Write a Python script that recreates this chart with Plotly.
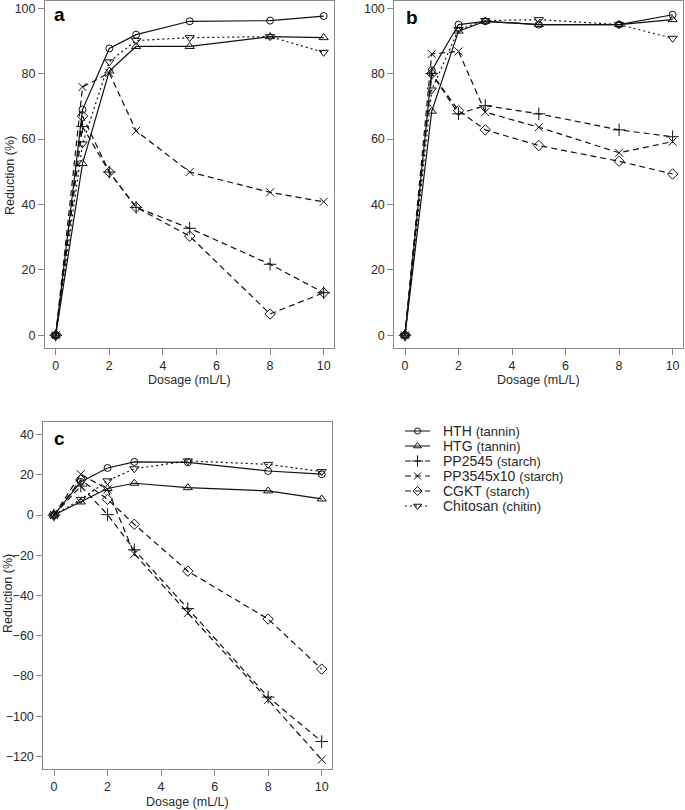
import plotly.graph_objects as go

W, H = 685, 810

dosage = [0, 1, 2, 3, 5, 8, 10]
x_ticks = [0, 2, 4, 6, 8, 10]
y_ticks_ab = [0, 20, 40, 60, 80, 100]
y_ticks_c = [-120, -100, -80, -60, -40, -20, 0, 20, 40]

names = ["HTH", "HTG", "PP2545", "PP3545x10", "CGKT", "Chitosan"]
groups = ["(tannin)", "(tannin)", "(starch)", "(starch)", "(starch)", "(chitin)"]

# panel a
hth_a = [0, 69, 87.7, 91.9, 96, 96.2, 97.6]
htg_a = [0, 52.5, 80.8, 88.3, 88.3, 91.3, 91]
pp2545_a = [0, 63.8, 49.9, 39.1, 32.7, 21.7, 13]
pp3545_a = [0, 75.9, 80.2, 62.5, 49.9, 43.7, 40.8]
cgkt_a = [0, 67, 49.9, 39.1, 30.3, 6.5, 13]
chitosan_a = [0, 58.5, 83.6, 90.1, 91, 91.3, 86.5]

# panel b
hth_b = [0, 81, 95, 96, 95, 95, 98]
htg_b = [0, 68.5, 93, 96, 95, 95, 96.5]
pp2545_b = [0, 80, 67.7, 70.2, 67.7, 62.8, 60.7]
pp3545_b = [0, 86, 86.8, 68.2, 63.6, 55.8, 59.2]
cgkt_b = [0, 80, 68.7, 62.8, 58, 53.2, 49.3]
chitosan_b = [0, 75, 93.5, 96.2, 96.5, 95, 90.8]

# panel c
hth_c = [0, 16.5, 23.4, 26.4, 26.2, 21.9, 20.3]
htg_c = [0, 6.5, 13.2, 15.8, 13.6, 12, 8]
pp2545_c = [0, 14.4, 0.2, -17.3, -46.5, -90.5, -112.6]
pp3545_c = [0, 20.3, 12.8, -19.3, -48.7, -91.9, -121.6]
cgkt_c = [0, 17.5, 7.8, -4.6, -27.9, -51.7, -76.6]
chitosan_c = [0, 7.8, 17, 23, 26.9, 25.2, 21.6]

panel_a = [hth_a, htg_a, pp2545_a, pp3545_a, cgkt_a, chitosan_a]
panel_b = [hth_b, htg_b, pp2545_b, pp3545_b, cgkt_b, chitosan_b]
panel_c = [hth_c, htg_c, pp2545_c, pp3545_c, cgkt_c, chitosan_c]

symbols = ["circle-open", "triangle-up-open", "cross-thin-open", "x-thin-open",
           "diamond-open", "triangle-down-open"]
dashes = ["solid", "solid", "6px,4px", "6px,4px", "6px,4px", "2px,3px"]
sizes = [7, 8, 9, 8, 8, 8]

LINE = "#111111"
BOX = "#8a8a8a"
TXT = "#2a2a2a"
FONT = "Liberation Sans, Arial, sans-serif"

fig = go.Figure()


def px_x(a, b):
    return [a / W, b / W]


def px_y(top, bot):
    return [1 - bot / H, 1 - top / H]


panels = [
    (panel_a, "x", "y"),
    (panel_b, "x2", "y2"),
    (panel_c, "x3", "y3"),
]

for data, xa, ya in panels:
    for i, vals in enumerate(data):
        fig.add_trace(go.Scatter(
            x=dosage, y=vals, xaxis=xa, yaxis=ya, mode="lines+markers",
            line=dict(color=LINE, width=1.2, dash=dashes[i]),
            marker=dict(symbol=symbols[i], size=sizes[i], color=LINE,
                        line=dict(color=LINE, width=1)),
            showlegend=False, hoverinfo="skip"))

# legend drawn on a hidden helper axis
rows = list(range(len(names)))
for i in rows:
    fig.add_trace(go.Scatter(
        x=[5, 30], y=[i, i], xaxis="x4", yaxis="y4", mode="lines",
        line=dict(color=LINE, width=1, dash=dashes[i]),
        showlegend=False, hoverinfo="skip"))
    fig.add_trace(go.Scatter(
        x=[17.5], y=[i], xaxis="x4", yaxis="y4", mode="markers",
        marker=dict(symbol=symbols[i], size=sizes[i] - 1, color=LINE,
                    line=dict(color=LINE, width=1)),
        showlegend=False, hoverinfo="skip"))

annotations = []
for i in rows:
    annotations.append(dict(
        x=41, y=i, xref="x4", yref="y4", xanchor="left", yanchor="middle",
        text=f"{names[i]} <span style='font-size:13px'>{groups[i]}</span>",
        showarrow=False, font=dict(family=FONT, size=14, color=TXT)))

axis_common = dict(showline=True, mirror=True, linecolor=BOX, linewidth=1,
                   ticks="outside", ticklen=6, tickcolor=BOX, tickwidth=1,
                   showgrid=False, zeroline=False,
                   tickfont=dict(family=FONT, size=12.5, color=TXT))

layout = dict(
    width=W, height=H, margin=dict(l=0, r=0, t=0, b=0),
    paper_bgcolor="white", plot_bgcolor="white", showlegend=False,
    xaxis=dict(domain=px_x(45, 334.4), range=[-0.4, 10.4], tickvals=x_ticks,
               anchor="y", **axis_common),
    yaxis=dict(domain=px_y(1, 348), range=[-3.9, 102.2], tickvals=y_ticks_ab,
               anchor="x", **axis_common),
    xaxis2=dict(domain=px_x(394.3, 683.3), range=[-0.4, 10.4], tickvals=x_ticks,
                anchor="y2", **axis_common),
    yaxis2=dict(domain=px_y(1, 348), range=[-3.9, 102.2], tickvals=y_ticks_ab,
                anchor="x2", **axis_common),
    xaxis3=dict(domain=px_x(43.3, 332.4), range=[-0.4, 10.4], tickvals=x_ticks,
                anchor="y3", **axis_common),
    yaxis3=dict(domain=px_y(421.7, 769.3), range=[-126.4, 46.4], tickvals=y_ticks_c,
                anchor="x3", **axis_common),
    xaxis4=dict(domain=px_x(400, 685), range=[0, 285], visible=False, anchor="y4"),
    yaxis4=dict(domain=px_y(423.5, 513.5), range=[5.5, -0.5], visible=False, anchor="x4"),
)
fig.update_layout(**layout)

# panel letters
for letter, xp, yp in [("a", 52, 15), ("b", 404, 17), ("c", 52, 438)]:
    annotations.append(dict(x=xp / W, y=1 - yp / H, xref="paper", yref="paper",
                            xanchor="left", yanchor="middle", text=f"<b>{letter}</b>",
                            showarrow=False, font=dict(family=FONT, size=19, color="#000")))

# axis titles
for xc, yc in [((45 + 334.4) / 2, 380), ((394.3 + 683.3) / 2, 380), ((43.3 + 332.4) / 2, 802)]:
    annotations.append(dict(x=xc / W, y=1 - yc / H, xref="paper", yref="paper",
                            xanchor="center", yanchor="middle", text="Dosage (mL/L)",
                            showarrow=False, font=dict(family=FONT, size=12.5, color=TXT)))
for xc, yc in [(10, 176), (8, 594)]:
    annotations.append(dict(x=xc / W, y=1 - yc / H, xref="paper", yref="paper",
                            xanchor="center", yanchor="middle", text="Reduction (%)",
                            textangle=-90, showarrow=False,
                            font=dict(family=FONT, size=12.5, color=TXT)))

fig.update_layout(annotations=annotations)
fig.write_html(
    "out.html",
    config={"displayModeBar": False},
    post_script="document.body.style.margin='0';document.body.style.overflow='hidden';",
)
